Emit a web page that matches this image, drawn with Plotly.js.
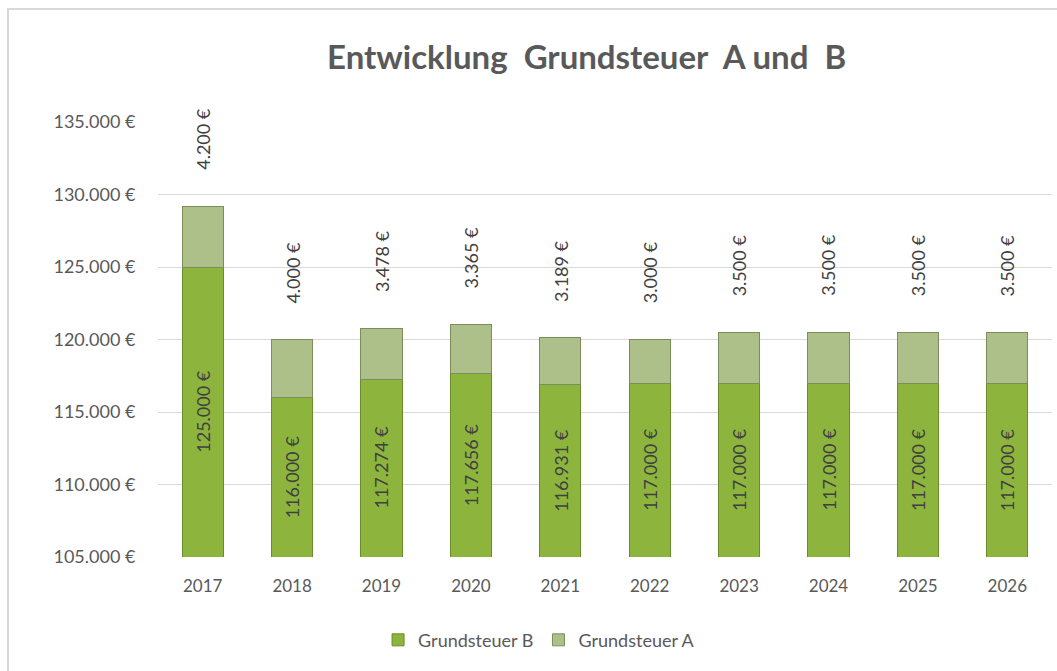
<!DOCTYPE html>
<html>
<head>
<meta charset="utf-8">
<script src="https://cdn.plot.ly/plotly-3.0.1.min.js"></script>
<style>
  html, body { margin: 0; padding: 0; background: #fff; }
  #wrap { position: relative; width: 1057px; height: 671px; overflow: hidden; }
  #frame { position: absolute; left: 7px; top: 8px; width: 1100px; height: 700px; border: 2px solid #d9d9d9; box-sizing: border-box; pointer-events: none; }
  #chart { position: absolute; left: 0; top: 0; width: 1057px; height: 671px; }
</style>
</head>
<body>
<div id="wrap">
  <div id="chart"></div>
  <div id="frame"></div>
</div>
<script>
const EURO = '\u20ac';
const years = ['2017', '2018', '2019', '2020', '2021', '2022', '2023', '2024', '2025', '2026'];
const grundsteuerB = [125000, 116000, 117274, 117656, 116931, 117000, 117000, 117000, 117000, 117000];
const grundsteuerA = [4200, 4000, 3478, 3365, 3189, 3000, 3500, 3500, 3500, 3500];
const yTickValues = [105000, 110000, 115000, 120000, 125000, 130000, 135000];
const yAxisMin = 105000;
const yAxisMax = 135000;

const fontFamily = 'Lato, "Open Sans", sans-serif';

function fmt(v) {
  return String(v).replace(/\B(?=(\d{3})+(?!\d))/g, '.') + ' ' + EURO;
}

const traceB = {
  type: 'bar',
  name: 'Grundsteuer B',
  x: years,
  y: grundsteuerB,
  width: 0.46,
  marker: { color: '#8db53d', line: { color: '#6a8a2b', width: 1 } },
  textposition: 'none',
  hoverinfo: 'x+y+name'
};

const traceA = {
  type: 'bar',
  name: 'Grundsteuer A',
  x: years,
  y: grundsteuerA,
  width: 0.46,
  marker: { color: '#adc08a', line: { color: '#7c8c5a', width: 1 } },
  textposition: 'none',
  hoverinfo: 'x+y+name'
};

const labelFont = { family: fontFamily, size: 18, color: '#404040' };

// category axis: annotations use the category index
const annA = years.map((yr, i) => ({
  x: i,
  y: grundsteuerB[i] + grundsteuerA[i],
  xref: 'x', yref: 'y',
  text: fmt(grundsteuerA[i]),
  showarrow: false,
  textangle: -90,
  xanchor: 'center',
  yanchor: 'bottom',
  yshift: 34,
  font: labelFont
}));

const annB = years.map((yr, i) => ({
  x: i,
  y: (yAxisMin + grundsteuerB[i]) / 2,
  xref: 'x', yref: 'y',
  text: fmt(grundsteuerB[i]),
  showarrow: false,
  textangle: -90,
  xanchor: 'center',
  yanchor: 'middle',
  font: labelFont
}));

const layout = {
  width: 1057,
  height: 671,
  paper_bgcolor: 'rgba(0,0,0,0)',
  plot_bgcolor: 'rgba(0,0,0,0)',
  separators: ',.',
  barmode: 'stack',
  margin: { l: 158, r: 5, t: 122, b: 114 },
  title: {
    text: '<b>Entwicklung  Grundsteuer  A und  B</b>',
    xref: 'container', yref: 'container',
    x: 0.555, xanchor: 'center',
    y: 0.915, yanchor: 'middle',
    font: { family: fontFamily, size: 33, color: '#595959' }
  },
  xaxis: {
    type: 'category',
    range: [-0.5, 9.5],
    showgrid: false,
    showline: false,
    zeroline: false,
    ticks: 'outside',
    ticklen: 14,
    tickcolor: 'rgba(0,0,0,0)',
    tickfont: { family: fontFamily, size: 17, color: '#595959' }
  },
  yaxis: {
    range: [yAxisMin, yAxisMax],
    tickvals: yTickValues,
    ticktext: yTickValues.map(fmt),
    showgrid: true,
    gridcolor: '#d9d9d9',
    gridwidth: 1,
    zeroline: false,
    showline: false,
    ticks: 'outside',
    ticklen: 18,
    tickcolor: 'rgba(0,0,0,0)',
    tickfont: { family: fontFamily, size: 18, color: '#595959' }
  },
  legend: {
    orientation: 'h',
    xref: 'container', yref: 'container',
    x: 0.51, xanchor: 'center',
    y: 0.046, yanchor: 'middle',
    font: { family: fontFamily, size: 18, color: '#595959' },
    traceorder: 'normal'
  },
  annotations: annA.concat(annB),
  showlegend: true
};

Plotly.newPlot('chart', [traceB, traceA], layout, { displayModeBar: false, staticPlot: true });
</script>
</body>
</html>
